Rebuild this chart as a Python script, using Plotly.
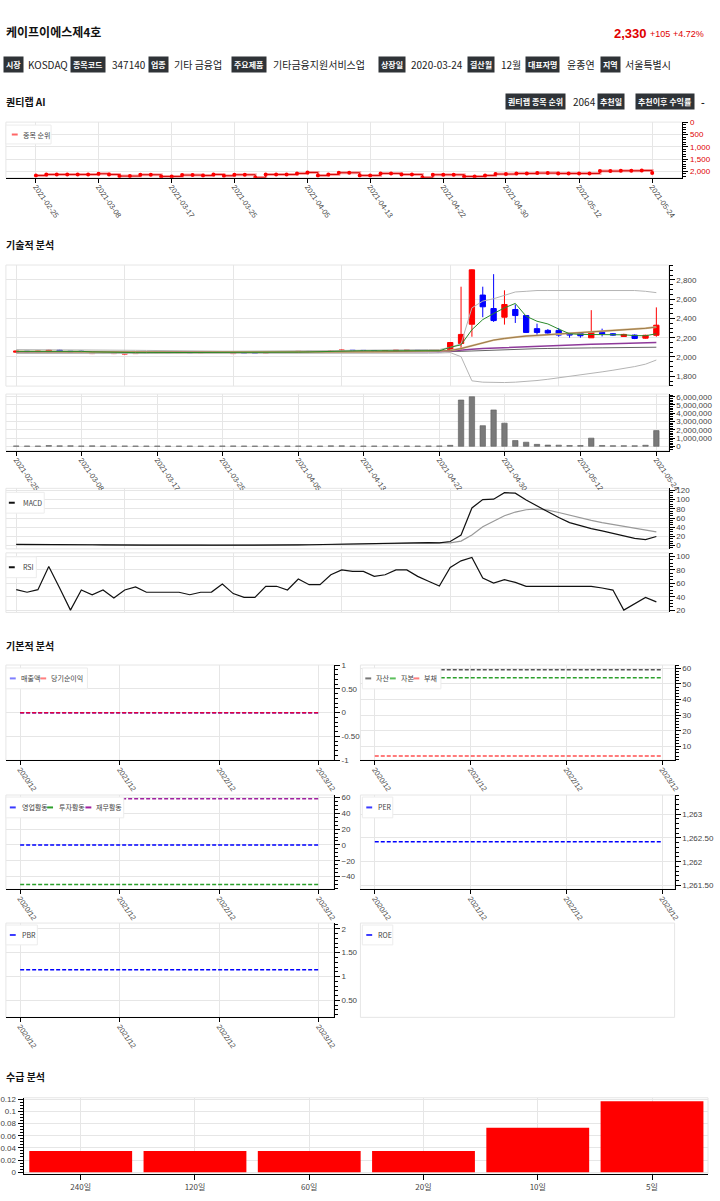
import plotly.graph_objects as go

W, H = 720, 1201

# ---------------- data ----------------
dates = ['2021-02-25', '2021-02-26', '2021-03-02', '2021-03-03', '2021-03-04', '2021-03-05',
         '2021-03-08', '2021-03-09', '2021-03-10', '2021-03-11', '2021-03-12', '2021-03-15',
         '2021-03-16', '2021-03-17', '2021-03-18', '2021-03-19', '2021-03-22', '2021-03-23',
         '2021-03-24', '2021-03-25', '2021-03-26', '2021-03-29', '2021-03-30', '2021-03-31',
         '2021-04-01', '2021-04-02', '2021-04-05', '2021-04-06', '2021-04-07', '2021-04-08',
         '2021-04-09', '2021-04-12', '2021-04-13', '2021-04-14', '2021-04-15', '2021-04-16',
         '2021-04-19', '2021-04-20', '2021-04-21', '2021-04-22', '2021-04-23', '2021-04-26',
         '2021-04-27', '2021-04-28', '2021-04-29', '2021-04-30', '2021-05-03', '2021-05-04',
         '2021-05-06', '2021-05-07', '2021-05-10', '2021-05-11', '2021-05-12', '2021-05-13',
         '2021-05-14', '2021-05-17', '2021-05-18', '2021-05-20', '2021-05-21', '2021-05-24']
tick_dates = ['2021-02-25', '2021-03-08', '2021-03-17', '2021-03-25', '2021-04-05',
              '2021-04-13', '2021-04-22', '2021-04-30', '2021-05-12', '2021-05-24']

rank = [2162, 2122, 2122, 2122, 2122, 2122, 2095, 2122, 2189, 2189,
        2135, 2135, 2203, 2203, 2149, 2149, 2162, 2122, 2176, 2135,
        2135, 2243, 2122, 2122, 2122, 2081, 2041, 2162, 2122, 2054,
        2054, 2162, 2162, 2081, 2081, 2122, 2122, 2243, 2135, 2135,
        2135, 2203, 2203, 2162, 2108, 2108, 2081, 2081, 2068, 2068,
        2081, 2081, 2081, 2081, 1986, 1986, 1973, 1973, 1959, 2064]

opens = [2050, 2060, 2055, 2055, 2070, 2060, 2060, 2035, 2045, 2035,
         2030, 2035, 2048, 2045, 2046, 2045, 2046, 2043, 2046, 2047,
         2035, 2045, 2040, 2040, 2050, 2052, 2048, 2058, 2055, 2055,
         2060, 2068, 2068, 2067, 2063, 2065, 2070, 2070, 2065, 2060,
         2056, 2140, 2340, 2643, 2503, 2413, 2493, 2430, 2294, 2276,
         2276, 2245, 2248, 2199, 2255, 2241, 2213, 2227, 2195, 2225]
highs = [2065, 2062, 2065, 2075, 2075, 2062, 2065, 2050, 2055, 2050,
         2048, 2050, 2050, 2048, 2048, 2048, 2048, 2048, 2050, 2058,
         2048, 2046, 2045, 2052, 2055, 2054, 2060, 2060, 2058, 2070,
         2075, 2072, 2070, 2068, 2068, 2072, 2073, 2072, 2066, 2062,
         2155, 2730, 2910, 2730, 2860, 2692, 2545, 2430, 2346, 2290,
         2300, 2250, 2250, 2486, 2294, 2248, 2241, 2234, 2230, 2515]
lows = [2048, 2050, 2052, 2052, 2055, 2045, 2040, 2030, 2040, 2030,
        2028, 2033, 2042, 2042, 2042, 2042, 2040, 2040, 2044, 2045,
        2032, 2036, 2036, 2038, 2048, 2045, 2046, 2052, 2052, 2052,
        2058, 2064, 2064, 2060, 2060, 2063, 2066, 2062, 2058, 2052,
        2050, 2070, 2210, 2413, 2364, 2336, 2353, 2250, 2227, 2240,
        2210, 2200, 2200, 2199, 2213, 2220, 2210, 2185, 2190, 2210]
closes = [2060, 2055, 2060, 2070, 2060, 2050, 2055, 2045, 2050, 2045,
          2045, 2045, 2045, 2046, 2045, 2046, 2043, 2046, 2047, 2055,
          2045, 2040, 2040, 2050, 2052, 2048, 2058, 2055, 2055, 2065,
          2070, 2068, 2067, 2063, 2065, 2070, 2070, 2065, 2060, 2056,
          2150, 2234, 2905, 2521, 2378, 2545, 2430, 2255, 2255, 2248,
          2227, 2227, 2220, 2262, 2241, 2227, 2234, 2192, 2225, 2330]

ma5 = [2058, 2058, 2058, 2060, 2061, 2059, 2058, 2053, 2049, 2047,
       2046, 2045, 2045, 2045, 2045, 2045, 2045, 2045, 2045, 2047,
       2047, 2046, 2044, 2044, 2046, 2047, 2050, 2052, 2053, 2056,
       2060, 2063, 2065, 2066, 2066, 2067, 2067, 2067, 2065, 2064,
       2100, 2126, 2283, 2388, 2451, 2510, 2556, 2423, 2371, 2343,
       2290, 2241, 2234, 2234, 2236, 2236, 2230, 2222, 2220, 2241]
ma20 = [2056, 2056, 2056, 2057, 2057, 2057, 2056, 2055, 2054, 2053,
        2052, 2052, 2051, 2051, 2050, 2050, 2049, 2049, 2049, 2049,
        2048, 2048, 2047, 2047, 2047, 2047, 2048, 2048, 2049, 2050,
        2051, 2052, 2053, 2054, 2055, 2056, 2057, 2058, 2058, 2059,
        2066, 2087, 2115, 2150, 2175, 2192, 2206, 2217, 2224, 2231,
        2238, 2245, 2252, 2259, 2266, 2273, 2280, 2287, 2297, 2311]
ma60 = [2054, 2054, 2054, 2054, 2054, 2054, 2054, 2054, 2053, 2053,
        2053, 2053, 2053, 2053, 2052, 2052, 2052, 2052, 2052, 2052,
        2052, 2052, 2052, 2052, 2052, 2052, 2052, 2053, 2053, 2053,
        2053, 2053, 2054, 2054, 2054, 2055, 2055, 2055, 2056, 2056,
        2063, 2068, 2080, 2087, 2092, 2098, 2102, 2108, 2112, 2116,
        2120, 2124, 2128, 2132, 2135, 2138, 2141, 2144, 2147, 2150]
ma120 = [2050, 2050, 2050, 2050, 2050, 2050, 2050, 2050, 2050, 2050,
         2050, 2050, 2050, 2050, 2050, 2050, 2050, 2050, 2050, 2050,
         2050, 2050, 2050, 2050, 2050, 2050, 2050, 2050, 2050, 2050,
         2051, 2051, 2051, 2051, 2051, 2052, 2052, 2052, 2052, 2053,
         2056, 2058, 2063, 2068, 2072, 2077, 2080, 2084, 2086, 2088,
         2091, 2092, 2093, 2094, 2095, 2096, 2098, 2099, 2100, 2101]
bb_upper = [2076, 2076, 2075, 2075, 2076, 2076, 2075, 2074, 2073, 2072,
            2070, 2069, 2068, 2066, 2064, 2062, 2060, 2060, 2060, 2060,
            2060, 2060, 2060, 2060, 2061, 2061, 2062, 2063, 2064, 2066,
            2068, 2070, 2072, 2073, 2074, 2075, 2076, 2077, 2077, 2077,
            2100, 2136, 2510, 2580, 2605, 2640, 2675, 2682, 2690, 2690,
            2690, 2690, 2690, 2690, 2690, 2690, 2690, 2690, 2682, 2668]
bb_lower = [2036, 2036, 2037, 2038, 2038, 2038, 2037, 2036, 2035, 2034,
            2034, 2035, 2034, 2036, 2036, 2038, 2038, 2038, 2038, 2038,
            2036, 2036, 2034, 2034, 2033, 2033, 2034, 2033, 2034, 2034,
            2034, 2034, 2034, 2035, 2036, 2037, 2038, 2039, 2039, 2041,
            2045, 2003, 1752, 1738, 1734, 1734, 1738, 1745, 1755, 1768,
            1782, 1797, 1812, 1828, 1845, 1862, 1880, 1900, 1925, 1968]

volume = [52000, 41000, 38000, 95000, 60000, 70000, 48000, 55000, 42000, 51000,
          47000, 39000, 36000, 33000, 30000, 35000, 40000, 32000, 30000, 45000,
          52000, 38000, 31000, 36000, 34000, 40000, 46000, 39000, 33000, 58000,
          62000, 37000, 35000, 41000, 38000, 44000, 40000, 36000, 48000, 52000,
          120000, 5600000, 6000000, 2500000, 4400000, 2800000, 700000, 500000, 240000, 150000,
          140000, 100000, 100000, 990000, 100000, 80000, 80000, 70000, 130000, 1900000]

macd = [3, 3, 3, 3.5, 3.5, 3, 2.5, 2, 1.5, 1,
        1, 1, 1, 1, 1, 1, 0.5, 0, 0, 0,
        0, 0, 0, 0, 0.5, 1, 1.5, 2, 2.5, 3,
        4, 4.5, 5, 5.5, 6, 6, 6, 6.5, 6.5, 6,
        9, 23, 82, 100, 101, 115, 114, 99, 86, 73,
        61, 50, 43, 37, 32, 27, 22, 16, 13, 20]
macd_signal = [2, 2, 2, 2.5, 2.5, 2.5, 2.5, 2.5, 2, 2,
               2, 1.5, 1.5, 1.5, 1, 1, 1, 1, 0.5, 0.5,
               0.5, 0.5, 0.5, 0.5, 0.5, 0.5, 1, 1.5, 2, 2.5,
               3, 3.5, 4, 4.5, 5, 5, 5.5, 5.5, 6, 6,
               6, 10, 23, 41, 53, 65, 73, 78, 80, 77,
               72, 66, 61, 55, 50, 46, 41, 37, 34, 30]

rsi = [50.6, 46.7, 50.6, 85.0, 53.0, 20.0, 50.0, 43.0, 50.0, 38.0,
       50.0, 54.6, 46.7, 46.7, 46.7, 46.7, 43.0, 46.7, 47.0, 59.0,
       44.7, 39.0, 39.0, 55.6, 55.6, 50.0, 66.4, 58.0, 58.0, 72.8,
       80.0, 77.8, 77.8, 70.4, 72.8, 80.0, 80.0, 70.4, 63.0, 56.0,
       83.7, 93.6, 98.5, 68.0, 60.5, 65.4, 61.5, 55.6, 55.6, 55.6,
       55.6, 54.6, 54.6, 55.6, 53.0, 50.0, 20.0, 30.0, 39.0, 32.3]

years = ['2020/12', '2021/12', '2022/12', '2023/12']
revenue = [0, 0, 0, 0]
net_income = [0, 0, 0, 0]
assets = [59.1, 59.1, 59.1, 59.1]
equity = [54.0, 54.0, 54.0, 54.0]
liabilities = [4.0, 4.0, 4.0, 4.0]
op_cf = [0, 0, 0, 0]
inv_cf = [-50, -50, -50, -50]
fin_cf = [58.4, 58.4, 58.4, 58.4]
per = [1262.42, 1262.42, 1262.42, 1262.42]
pbr = [1.14, 1.14, 1.14, 1.14]
roe = []

supply_periods = ['240일', '120일', '60일', '20일', '10일', '5일']
supply_values = [0.035, 0.035, 0.035, 0.035, 0.073, 0.117]

# ---------------- styling helpers ----------------
FONT = "Liberation Sans, Noto Sans CJK KR, sans-serif"
KFONT = "Noto Sans CJK KR, Liberation Sans, sans-serif"
GRID = '#e6e6e6'
TICKC = '#444'
TFS = 7.5

fig = go.Figure()
layout = dict(width=W, height=H, margin=dict(l=0, r=0, t=0, b=0),
              paper_bgcolor='white', plot_bgcolor='white', showlegend=False,
              font=dict(family=FONT, size=8, color=TICKC))
shapes = []
annotations = []


def px(x):
    return x / W


def py(y):
    return 1 - y / H


def axname(n):
    return ('xaxis', 'yaxis') if n == 1 else (f'xaxis{n}', f'yaxis{n}')


def axref(n):
    return ('x', 'y') if n == 1 else (f'x{n}', f'y{n}')


def base_x(**kw):
    d = dict(showgrid=True, gridcolor=GRID, gridwidth=1, zeroline=False, showline=False,
             ticks='', showticklabels=False, fixedrange=True,
             tickfont=dict(size=TFS, color=TICKC, family=FONT))
    d.update(kw)
    return d


def base_y(**kw):
    d = dict(side='right', showgrid=True, gridcolor=GRID, gridwidth=1, zeroline=False,
             showline=True, linecolor='black', linewidth=1, ticks='outside', ticklen=5,
             tickcolor='black', minor=dict(ticks='outside', ticklen=3, tickcolor='black',
                                           showgrid=False),
             tickfont=dict(size=8, color=TICKC, family=FONT), fixedrange=True)
    d.update(kw)
    return d


def date_x(**kw):
    return base_x(type='category', showline=True, linecolor='black', linewidth=1,
                  ticks='outside', ticklen=4, tickcolor='black', showticklabels=True,
                  tickmode='array', tickvals=tick_dates, ticktext=tick_dates,
                  tickangle=55, ticklabelstandoff=-3, **kw)


def panel(n, x0, x1, y0, y1, xa, ya, frame=True):
    xn, yn = axname(n)
    xr, yr = axref(n)
    xa = dict(xa)
    ya = dict(ya)
    xa.update(domain=[px(x0), px(x1)], anchor=yr)
    ya.update(domain=[py(y1), py(y0)], anchor=xr)
    layout[xn] = xa
    layout[yn] = ya
    if frame:
        shapes.append(dict(type='rect', xref='paper', yref='paper', x0=px(x0), x1=px(x1),
                           y0=py(y1), y1=py(y0), line=dict(color=GRID, width=1),
                           layer='below'))
    return xr, yr


def text(x, y, s, size=10, color='#222', bold=False, anchor='left', bg=None, family=KFONT):
    a = dict(x=px(x), y=py(y), xref='paper', yref='paper', showarrow=False,
             text=f'<b>{s}</b>' if bold else s, xanchor=anchor, yanchor='middle',
             font=dict(size=size, color=color, family=family))
    if bg:
        a.update(bgcolor=bg, borderpad=2)
    annotations.append(a)


def badge(x, y, s):
    text(x, y, s, size=8, color='white', bold=True, bg='#2f3337')


def legend_box(x0, y0, x1, y1, items):
    shapes.append(dict(type='rect', xref='paper', yref='paper', x0=px(x0), x1=px(x1),
                       y0=py(y1), y1=py(y0), line=dict(color='#ececec', width=1),
                       fillcolor='white', layer='above'))
    yc = (y0 + y1) / 2
    for label, color, gx, tx in items:
        shapes.append(dict(type='line', xref='paper', yref='paper', x0=px(gx), x1=px(gx + 6),
                           y0=py(yc), y1=py(yc), line=dict(color=color, width=2),
                           layer='above'))
        text(tx, yc, label, size=7, color='#444')


DASH = '4px,2px'

# ---------------- header ----------------
text(3, 28, '케이프이에스제4호', size=12, color='#111', bold=True)
text(718, 30, '+4.72%', size=9, color='#e00000', anchor='right', family=FONT)
text(683, 30, '+105', size=9, color='#e00000', anchor='right', family=FONT)
text(660, 30, '2,330', size=13, color='#e00000', bold=True, anchor='right', family=FONT)

info = [('시장', 2, 'KOSDAQ', 25), ('종목코드', 70, '347140', 111),
        ('업종', 150, '기타 금융업', 174), ('주요제품', 234, '기타금융지원서비스업', 275),
        ('상장일', 384, '2020-03-24', 415), ('결산월', 475, '12월', 507),
        ('대표자명', 534, '윤종연', 574), ('지역', 610, '서울특별시', 633)]
for lab, bx, val, vx in info:
    badge(bx, 61, lab)
    text(vx, 61, val, size=10, color='#222')

text(3, 98, '퀀티랩 AI', size=10, color='#111', bold=True)
badge(513, 98, '퀀티랩 종목 순위')
text(580, 98, '2064', size=10, color='#222')
badge(607, 98, '추천일')
badge(646, 98, '추천이후 수익률')
text(711, 98, '-', size=10, color='#222', bold=True)

text(3, 242, '기술적 분석', size=10, color='#111', bold=True)
text(3, 646, '기본적 분석', size=10, color='#111', bold=True)
text(3, 1081, '수급 분석', size=10, color='#111', bold=True)

# ---------------- quant rank ----------------
xr, yr = panel(1, 5, 694, 119, 175,
               date_x(range=[-2.87, 61.9]),
               base_y(range=[2255, -12], tickvals=[0, 500, 1000, 1500, 2000],
                      ticktext=['0', '500', '1,000', '1,500', '2,000'],
                      tickfont=dict(size=8, color='#e00000', family=FONT)))
fig.add_trace(go.Scatter(x=dates, y=rank, mode='lines', line=dict(shape='hv', color='rgba(255,0,0,0.35)', width=3),
                         xaxis=xr, yaxis=yr, hoverinfo='skip'))
fig.add_trace(go.Scatter(x=dates, y=rank, mode='lines+markers', name='종목 순위',
                         line=dict(shape='hv', color='#d00000', width=1),
                         marker=dict(size=4, color='red'), xaxis=xr, yaxis=yr))
legend_box(5, 122, 51, 141, [('종목 순위', 'rgba(255,0,0,0.6)', 11, 20)])

# ---------------- candlestick ----------------
XR_T = [-0.95, 60.14]
xr, yr = panel(2, 5, 680, 263, 385,
               base_x(type='category', range=XR_T, tickmode='linear', tick0=0, dtick=10,
                      rangeslider=dict(visible=False)),
               base_y(range=[1697, 2955], dtick=200, tickformat=','))
for ys, col, w in [(bb_upper, '#b4b4b4', 1), (bb_lower, '#b4b4b4', 1), (ma120, '#666666', 1),
                   (ma60, '#8e3a9a', 1.5), (ma20, '#d7b98a', 2), (ma20, '#8b6a3a', 0.8),
                   (ma5, '#2a8a2a', 1)]:
    fig.add_trace(go.Scatter(x=dates, y=ys, mode='lines', line=dict(color=col, width=w),
                             xaxis=xr, yaxis=yr, hoverinfo='skip'))
fig.add_trace(go.Candlestick(x=dates, open=opens, high=highs, low=lows, close=closes,
                             increasing=dict(line=dict(color='red', width=1), fillcolor='red'),
                             decreasing=dict(line=dict(color='blue', width=1), fillcolor='blue'),
                             whiskerwidth=0, xaxis=xr, yaxis=yr))

# ---------------- volume ----------------
xr, yr = panel(3, 5, 680, 393, 450,
               date_x(range=XR_T),
               base_y(range=[-520000, 6320000], dtick=1000000, tickformat=','))
fig.add_trace(go.Bar(x=dates, y=volume, width=0.5, marker=dict(color='#7a7a7a',
                     line=dict(color='#5a5a5a', width=0.6)), xaxis=xr, yaxis=yr))

# ---------------- MACD ----------------
xr, yr = panel(4, 5, 680, 488, 549,
               base_x(type='category', range=XR_T, tickmode='linear', tick0=0, dtick=10),
               base_y(range=[-7, 124.5], dtick=20))
fig.add_trace(go.Scatter(x=dates, y=macd_signal, mode='lines', line=dict(color='#999999', width=1.2),
                         xaxis=xr, yaxis=yr))
fig.add_trace(go.Scatter(x=dates, y=macd, mode='lines', name='MACD', line=dict(color='#111111', width=1.2),
                         xaxis=xr, yaxis=yr))
legend_box(5, 492, 44, 513, [('MACD', '#111111', 8, 20)])

# ---------------- RSI ----------------
xr, yr = panel(5, 5, 680, 553, 613,
               base_x(type='category', range=XR_T, tickmode='linear', tick0=0, dtick=10),
               base_y(range=[16.6, 105.5], dtick=20))
fig.add_trace(go.Scatter(x=dates, y=rsi, mode='lines', name='RSI', line=dict(color='#111111', width=1.2),
                         xaxis=xr, yaxis=yr))
legend_box(5, 557, 36, 578, [('RSI', '#111111', 8, 20)])


# ---------------- fundamentals ----------------
def fund_x(rng, labels=True):
    return base_x(type='category', range=rng, showline=labels, linecolor='black', linewidth=1,
                  ticks='outside' if labels else '', ticklen=4, tickcolor='black',
                  showticklabels=labels, tickangle=55, ticklabelstandoff=-3)


LX = [-0.143, 3.15]
RX = [-0.15, 3.13]

xr, yr = panel(6, 5, 339, 666, 762, fund_x(LX),
               base_y(range=[-1, 1], tickvals=[-1, -0.5, 0, 0.5, 1],
                      ticktext=['-1', '-0.50', '0', '0.50', '1']))
fig.add_trace(go.Scatter(x=years, y=revenue, mode='lines', name='매출액',
                         line=dict(color='blue', width=1.5, dash=DASH), xaxis=xr, yaxis=yr))
fig.add_trace(go.Scatter(x=years, y=net_income, mode='lines', name='당기순이익',
                         line=dict(color='#e8003a', width=1.5, dash=DASH), xaxis=xr, yaxis=yr))
legend_box(5, 669, 88, 690, [('매출액', '#7f7fff', 9, 18), ('당기순이익', '#ff7f7f', 40, 49)])

xr, yr = panel(7, 366, 686, 666, 762, fund_x(RX),
               base_y(range=[1.3, 62.1], dtick=10))
fig.add_trace(go.Scatter(x=years, y=assets, mode='lines', name='자산',
                         line=dict(color='#555555', width=1.5, dash=DASH), xaxis=xr, yaxis=yr))
fig.add_trace(go.Scatter(x=years, y=equity, mode='lines', name='자본',
                         line=dict(color='#2ca02c', width=1.5, dash=DASH), xaxis=xr, yaxis=yr))
fig.add_trace(go.Scatter(x=years, y=liabilities, mode='lines', name='부채',
                         line=dict(color='#ff5050', width=1.5, dash=DASH), xaxis=xr, yaxis=yr))
legend_box(368, 669, 448, 690, [('자산', '#777777', 371, 380), ('자본', '#5cbf5c', 396, 405),
                                 ('부채', '#ff7f7f', 420, 429)])

xr, yr = panel(8, 5, 339, 797, 892, fund_x(LX),
               base_y(range=[-56, 63], dtick=20))
fig.add_trace(go.Scatter(x=years, y=op_cf, mode='lines', name='영업활동',
                         line=dict(color='blue', width=1.5, dash=DASH), xaxis=xr, yaxis=yr))
fig.add_trace(go.Scatter(x=years, y=inv_cf, mode='lines', name='투자활동',
                         line=dict(color='#2ca02c', width=1.5, dash=DASH), xaxis=xr, yaxis=yr))
fig.add_trace(go.Scatter(x=years, y=fin_cf, mode='lines', name='재무활동',
                         line=dict(color='#a020a0', width=1.5, dash=DASH), xaxis=xr, yaxis=yr))
legend_box(5, 799, 125, 820, [('영업활동', '#3a3aff', 9, 19), ('투자활동', '#2ca02c', 47, 57),
                               ('재무활동', '#a020a0', 86, 95)])

xr, yr = panel(9, 366, 686, 797, 892, fund_x(RX),
               base_y(range=[1261.42, 1263.40], tickvals=[1261.5, 1262, 1262.5, 1263],
                      ticktext=['1,261.50', '1,262', '1,262.50', '1,263']))
fig.add_trace(go.Scatter(x=years, y=per, mode='lines', name='PER',
                         line=dict(color='blue', width=1.5, dash=DASH), xaxis=xr, yaxis=yr))
legend_box(368, 799, 399, 820, [('PER', '#3a3aff', 372, 382)])

xr, yr = panel(10, 5, 339, 926, 1021, fund_x(LX),
               base_y(range=[0.146, 2.12], tickvals=[0.5, 1, 1.5, 2],
                      ticktext=['0.50', '1', '1.50', '2']))
fig.add_trace(go.Scatter(x=years, y=pbr, mode='lines', name='PBR',
                         line=dict(color='blue', width=1.5, dash=DASH), xaxis=xr, yaxis=yr))
legend_box(5, 928, 37, 948, [('PBR', '#3a3aff', 9, 19)])

xr, yr = panel(11, 366, 686, 926, 1021,
               base_x(type='category', range=RX, showgrid=False),
               dict(range=[0, 1], showgrid=False, zeroline=False, showline=False,
                    showticklabels=False, ticks='', fixedrange=True))
fig.add_trace(go.Scatter(x=years[:len(roe)], y=roe, mode='lines', name='ROE',
                         line=dict(color='blue', width=1.5, dash=DASH), xaxis=xr, yaxis=yr))
legend_box(368, 928, 399, 948, [('ROE', '#3a3aff', 372, 382)])

# ---------------- supply ----------------
xr, yr = panel(12, 23, 720, 1102, 1179,
               base_x(type='category', range=[-0.5, 5.49], showline=True, linecolor='black',
                      linewidth=1, ticks='outside', ticklen=5, tickcolor='black',
                      showticklabels=True, tickfont=dict(size=8, color=TICKC, family=KFONT)),
               base_y(side='left', range=[-0.0033, 0.1226], dtick=0.02))
fig.add_trace(go.Bar(x=supply_periods, y=supply_values, width=0.9,
                     marker=dict(color='red', line=dict(width=0)), xaxis=xr, yaxis=yr))

layout['shapes'] = shapes
layout['annotations'] = annotations
fig.update_layout(**layout)
fig.write_html("out.html", config={'displayModeBar': False},
               post_script="document.body.style.margin='0';document.body.style.overflow='hidden';")
